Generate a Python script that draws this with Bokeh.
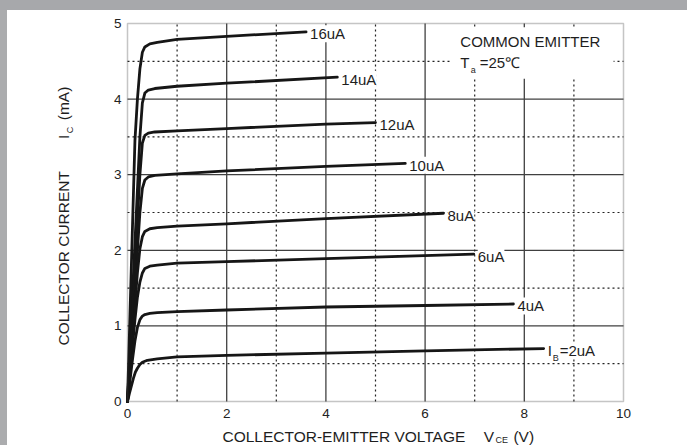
from bokeh.plotting import figure
from bokeh.models import Label, BoxAnnotation, Div
from bokeh.layouts import column, row
from bokeh.core.properties import value
from bokeh.embed import file_html
from bokeh.resources import INLINE

# Output characteristics: collector current (mA) vs collector-emitter voltage (V)
vce_2 = [0, 0.04, 0.08, 0.12, 0.16, 0.2, 0.25, 0.3, 0.4, 0.6, 1.0, 2.0, 4.0, 6.0, 8.39]
ic_2 = [0, 0.11, 0.21, 0.31, 0.39, 0.44, 0.49, 0.52, 0.545, 0.565, 0.59, 0.61, 0.64, 0.67, 0.70]

vce_4 = [0, 0.05, 0.1, 0.15, 0.2, 0.25, 0.3, 0.35, 0.45, 0.6, 1.0, 2.0, 4.0, 6.0, 7.78]
ic_4 = [0, 0.28, 0.55, 0.8, 0.98, 1.08, 1.13, 1.15, 1.165, 1.175, 1.19, 1.21, 1.25, 1.27, 1.29]

vce_6 = [0, 0.05, 0.1, 0.15, 0.2, 0.25, 0.3, 0.35, 0.45, 0.6, 1.0, 2.0, 4.0, 6.98]
ic_6 = [0, 0.36, 0.72, 1.08, 1.38, 1.58, 1.7, 1.76, 1.79, 1.805, 1.83, 1.85, 1.89, 1.95]

vce_8 = [0, 0.05, 0.1, 0.15, 0.2, 0.25, 0.3, 0.35, 0.45, 0.6, 1.0, 2.0, 4.0, 6.37]
ic_8 = [0, 0.42, 0.85, 1.28, 1.7, 2.02, 2.18, 2.25, 2.285, 2.3, 2.32, 2.35, 2.42, 2.49]

vce_10 = [0, 0.05, 0.1, 0.15, 0.2, 0.25, 0.3, 0.35, 0.42, 0.55, 1.0, 2.0, 4.0, 5.6]
ic_10 = [0, 0.5, 1.0, 1.5, 2.0, 2.5, 2.82, 2.93, 2.97, 2.99, 3.01, 3.05, 3.11, 3.15]

vce_12 = [0, 0.05, 0.1, 0.15, 0.2, 0.25, 0.3, 0.35, 0.42, 0.55, 1.0, 2.0, 4.0, 5.0]
ic_12 = [0, 0.6, 1.2, 1.8, 2.4, 3.0, 3.42, 3.52, 3.55, 3.565, 3.58, 3.61, 3.67, 3.69]

vce_14 = [0, 0.05, 0.1, 0.15, 0.2, 0.25, 0.3, 0.35, 0.42, 0.55, 1.0, 2.0, 4.23]
ic_14 = [0, 0.7, 1.4, 2.1, 2.8, 3.5, 3.95, 4.08, 4.12, 4.14, 4.17, 4.21, 4.29]

vce_16 = [0, 0.05, 0.1, 0.15, 0.2, 0.25, 0.3, 0.35, 0.45, 0.6, 1.0, 2.0, 3.6]
ic_16 = [0, 1.15, 2.3, 3.45, 4.0, 4.4, 4.62, 4.69, 4.73, 4.75, 4.79, 4.83, 4.89]

curve_labels = ["2uA", "4uA", "6uA", "8uA", "10uA", "12uA", "14uA", "16uA"]
x_ticks = [0, 2, 4, 6, 8, 10]
y_ticks = [0, 1, 2, 3, 4, 5]
x_major_grid = [2, 4, 6, 8]
x_minor_grid = [1, 3, 5, 7, 9]
y_major_grid = [1, 2, 3, 4]
y_minor_grid = [0.5, 1.5, 2.5, 3.5, 4.5]
X_MAX, Y_MAX = 10, 5

FONT = "Liberation Sans"
INK = "#161616"
GRID = "#404040"
TXT = "#1e1e1e"

# canvas geometry: the data box sits inside a 680 x 435 canvas
W, H = 680, 435
BOX_L, BOX_R, BOX_T, BOX_B = 120, 616, 13, 391
px_x = (BOX_R - BOX_L) / X_MAX
px_y = (BOX_B - BOX_T) / Y_MAX

p = figure(width=W, height=H,
           x_range=(-BOX_L / px_x, X_MAX + (W - BOX_R) / px_x),
           y_range=(-(H - BOX_B) / px_y, Y_MAX + BOX_T / px_y),
           x_axis_type=None, y_axis_type=None,
           output_backend="svg", toolbar_location=None, min_border=0)
p.background_fill_color = "white"
p.border_fill_color = "white"
p.outline_line_color = None
p.grid.visible = False

# solid grid on the labelled divisions, dotted grid half-way between
p.segment(x0=x_major_grid, y0=[0] * len(x_major_grid), x1=x_major_grid,
          y1=[Y_MAX] * len(x_major_grid), line_color=GRID, line_width=1.3, level="underlay")
p.segment(x0=[0] * len(y_major_grid), y0=y_major_grid, x1=[X_MAX] * len(y_major_grid),
          y1=y_major_grid, line_color=GRID, line_width=1.3, level="underlay")
p.segment(x0=x_minor_grid, y0=[0] * len(x_minor_grid), x1=x_minor_grid,
          y1=[Y_MAX] * len(x_minor_grid), line_color="#222222", line_width=1.2,
          line_dash="2 3", level="underlay")
p.segment(x0=[0] * len(y_minor_grid), y0=y_minor_grid, x1=[X_MAX] * len(y_minor_grid),
          y1=y_minor_grid, line_color="#222222", line_width=1.2,
          line_dash="2 3", level="underlay")

# plot box border
p.add_layout(BoxAnnotation(left=0, right=X_MAX, bottom=0, top=Y_MAX,
                           fill_alpha=0, line_color=GRID, line_width=1.5))

# tick labels
p.text(x=x_ticks, y=[-12 / px_y] * len(x_ticks), text=[str(t) for t in x_ticks],
       text_font=value(FONT), text_font_size="13.5px", text_color="#222222",
       text_align="center", text_baseline="middle")
p.text(x=[-6 / px_x] * len(y_ticks), y=y_ticks, text=[str(t) for t in y_ticks],
       text_font=value(FONT), text_font_size="13.5px", text_color="#222222",
       text_align="right", text_baseline="middle")

series = [(vce_2, ic_2), (vce_4, ic_4), (vce_6, ic_6), (vce_8, ic_8),
          (vce_10, ic_10), (vce_12, ic_12), (vce_14, ic_14), (vce_16, ic_16)]

for (vx, iy), name in zip(series, curve_labels):
    p.line(vx, iy, line_color=INK, line_width=2.8,
           line_join="round", line_cap="round")
    common = dict(y=iy[-1], text_font=FONT, text_color=TXT, text_baseline="middle",
                  background_fill_color="white", y_offset=-2)
    if name == "2uA":
        p.add_layout(Label(x=vx[-1], text="I", x_offset=4, text_font_size="15px", **common))
        p.add_layout(Label(x=vx[-1], text="B", x_offset=9,
                           text_font_size="9px", **{**common, "y_offset": -9}))
        p.add_layout(Label(x=vx[-1], text="=2uA", x_offset=16, text_font_size="15px", **common))
    else:
        p.add_layout(Label(x=vx[-1], text=name, x_offset=4, text_font_size="15px", **common))

# conditions note, on a white field over the grid
p.add_layout(BoxAnnotation(left=6.51, right=9.8, top=4.95, bottom=4.27,
                           fill_color="white", fill_alpha=1.0, line_color=None))
note = dict(text_font=FONT, text_color=TXT, text_baseline="middle")
p.add_layout(Label(x=6.71, y=4.76, text="COMMON EMITTER", text_font_size="15px", **note))
p.add_layout(Label(x=6.71, y=4.48, text="T", text_font_size="15px", **note))
p.add_layout(Label(x=6.92, y=4.39, text="a", text_font_size="9px", **note))
p.add_layout(Label(x=7.1, y=4.48, text="=25\u2103", text_font_size="15px", **note))

# axis titles
p.add_layout(Label(x=1.915, y=-0.463, text="COLLECTOR-EMITTER VOLTAGE",
                   text_font_size="15.5px", **note))
p.add_layout(Label(x=7.18, y=-0.463, text="V", text_font_size="15.5px", **note))
p.add_layout(Label(x=7.42, y=-0.51, text="CE", text_font_size="9px", **note))
p.add_layout(Label(x=7.78, y=-0.463, text="(V)", text_font_size="15.5px", **note))

rot = dict(text_font=FONT, text_color=TXT, text_baseline="middle", angle=1.5708)
p.add_layout(Label(x=-1.29, y=0.74, text="COLLECTOR CURRENT", text_font_size="15.5px", **rot))
p.add_layout(Label(x=-1.29, y=3.50, text="I", text_align="center", text_font_size="15.5px", **rot))
p.add_layout(Label(x=-1.15, y=3.59, text="C", text_align="center", text_font_size="9px", **rot))
p.add_layout(Label(x=-1.29, y=3.72, text="(mA)", text_font_size="15.5px", **rot))

top_band = Div(width=687, height=10, margin=0, styles={"background-color": "#a7a8ab"})
left_band = Div(width=7, height=H, margin=0, styles={"background-color": "#abacae"})
layout = column(top_band, row(left_band, p, spacing=0), spacing=0)

open("out.html", "w").write(file_html(layout, INLINE))
